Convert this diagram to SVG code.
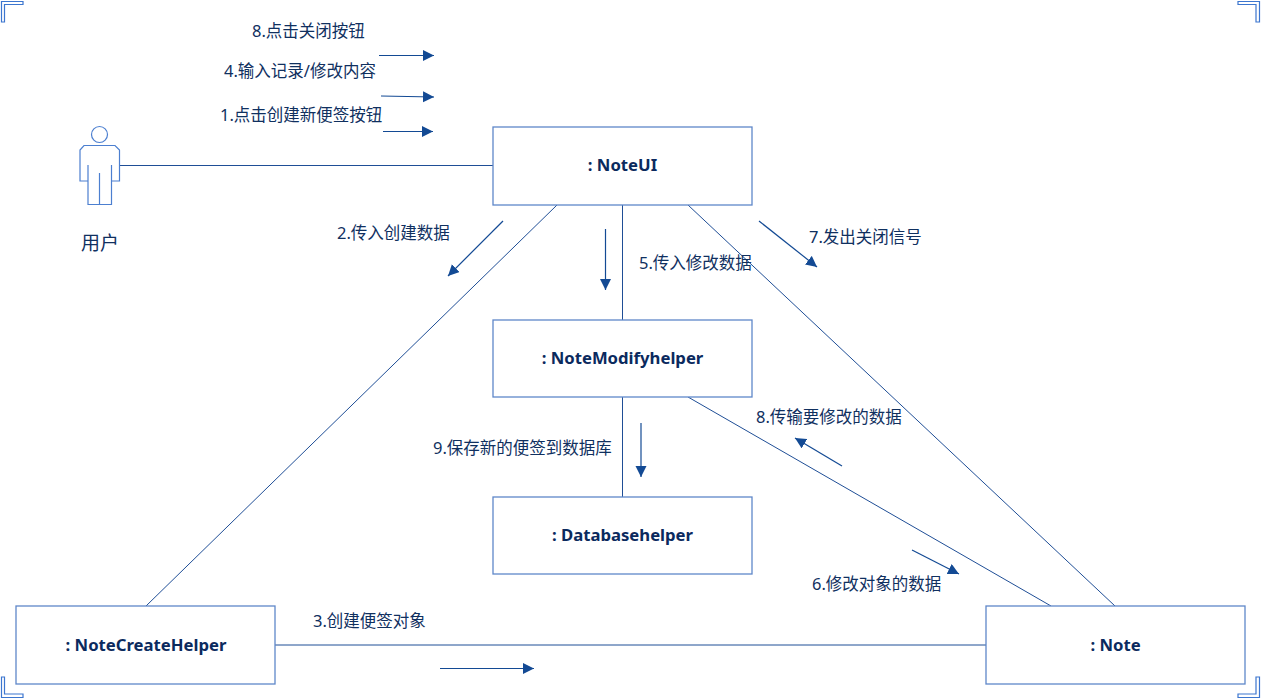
<svg xmlns="http://www.w3.org/2000/svg" width="1261" height="699" viewBox="0 0 1261 699">
<style>
text{font-family:"Noto Sans","Noto Sans CJK SC",sans-serif;font-size:16.500px;fill:#10305f}
.n{font-size:16.700px;font-weight:700;text-anchor:middle;fill:#0b2a5e}
.b{fill:#fff;stroke:#5f87c9;stroke-width:1.3}
.c{fill:none;stroke:#1f4e96;stroke-width:1}
.a{fill:none;stroke:#134a94;stroke-width:1.200;marker-end:url(#h)}
.k{fill:#fff;stroke:#3c76cf;stroke-width:1.200}
.u{fill:none;stroke:#4c7fd0;stroke-width:1.200}
</style>
<defs><marker id="h" markerUnits="userSpaceOnUse" markerWidth="12" markerHeight="12" refX="11" refY="5.500" orient="auto"><path d="M0 0L11 5.500L0 11Z" fill="#134a94"/></marker></defs>
<rect width="1261" height="699" fill="#fff"/>
<g id="corners">
<path class="k" d="M1.500 22V1.500H23V4.500H4.500V22Z"/>
<path class="k" d="M1238 1.500H1259.500V22H1256V4.500H1238Z"/>
<path class="k" d="M1.500 677H4.500V694H23V697.500H1.500Z"/>
<path class="k" d="M1256 677H1259.500V697.500H1238V694H1256Z"/>
</g>
<g id="connectors">
<path class="c" d="M120 165.500H493M622.500 205V320M622.500 397V497M557 205L146 606M688 205L1115 606M688 397L1051 606M275 645H986"/>
<path class="a" d="M379 55.500H434"/>
<path class="a" d="M381 96L434 97"/>
<path class="a" d="M383 131.500H433"/>
<path class="a" d="M503 221L448 276"/>
<path class="a" d="M605.500 229V290"/>
<path class="a" d="M759 221L817 267"/>
<path class="a" d="M641 423V477"/>
<path class="a" d="M842 466L795 438"/>
<path class="a" d="M912 550L959 574"/>
<path class="a" d="M440 668.500H534"/>
</g>
<g id="user">
<circle class="u" cx="99.500" cy="134.500" r="8"/>
<path class="u" d="M84 145.500H115L119.500 150V181H111.500V204.500H88V181H80V150ZM88 165V181M111.500 165V181M99.500 173V204.500"/>
<text x="100" y="250" style="font-size:19px" text-anchor="middle">用户</text>
</g>
<g id="noteui"><rect class="b" x="493" y="127" width="259" height="78"/><text class="n" x="622.500" y="171">: NoteUI</text></g>
<g id="notemodifyhelper"><rect class="b" x="493" y="320" width="259" height="77"/><text class="n" x="622.500" y="364">: NoteModifyhelper</text></g>
<g id="databasehelper"><rect class="b" x="493" y="497" width="259" height="77"/><text class="n" x="622.500" y="541">: Databasehelper</text></g>
<g id="notecreatehelper"><rect class="b" x="16" y="606" width="259" height="78"/><text class="n" x="146" y="651">: NoteCreateHelper</text></g>
<g id="note"><rect class="b" x="986" y="606" width="259" height="78"/><text class="n" x="1115.500" y="651">: Note</text></g>
<g id="labels">
<text x="252" y="37">8.点击关闭按钮</text>
<text x="224" y="77">4.输入记录/修改内容</text>
<text x="220" y="121">1.点击创建新便签按钮</text>
<text x="337" y="239">2.传入创建数据</text>
<text x="639" y="269">5.传入修改数据</text>
<text x="809" y="243">7.发出关闭信号</text>
<text x="756" y="423">8.传输要修改的数据</text>
<text x="433" y="454">9.保存新的便签到数据库</text>
<text x="812" y="590">6.修改对象的数据</text>
<text x="313" y="627">3.创建便签对象</text>
</g>
</svg>
